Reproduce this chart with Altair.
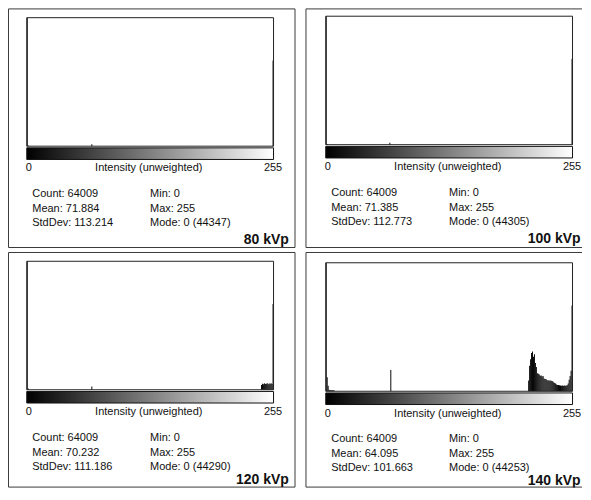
import altair as alt
import pandas as pd

FONT = "Liberation Sans"

# ---- data ----
panel_labels = ["80 kVp", "100 kVp", "120 kVp", "140 kVp"]
stat_count = [64009, 64009, 64009, 64009]
stat_mean = ["71.884", "71.385", "70.232", "64.095"]
stat_std = ["113.214", "112.773", "111.186", "101.663"]
stat_min = [0, 0, 0, 0]
stat_max = [255, 255, 255, 255]
stat_mode = [0, 0, 0, 0]
stat_mode_count = [44347, 44305, 44290, 44253]

axis_min_label = "0"
axis_max_label = "255"
axis_title = "Intensity (unweighted)"

bins_80 = [0, 1, 67, 255]
counts_80 = [44347, 150, 400, 18000]

bins_100 = [0, 1, 66, 255]
counts_100 = [44305, 150, 400, 17900]

bins_120 = [0, 1, 67, 243, 244, 245, 246, 247, 248, 249, 250, 251, 252, 253, 254, 255]
counts_120 = [44290, 150, 390, 560, 700, 640, 760, 690, 720, 780, 650, 740, 700, 760, 680, 10100]

bins_140 = [0, 1, 2, 3, 4, 5, 6, 7, 8, 67,
            210, 211, 212, 213, 214, 215, 216, 217, 218, 219,
            220, 221, 222, 223, 224, 225, 226, 227, 228, 229,
            230, 231, 232, 233, 234, 235, 236, 237, 238, 239,
            240, 241, 242, 243, 244, 245, 246, 247, 248, 249,
            250, 251, 252, 253, 254, 255]
counts_140 = [44253, 376, 150, 40, 34, 30, 36, 28, 30, 568,
              287, 684, 855, 1026, 1060, 923, 992, 752, 650, 479,
              470, 445, 412, 420, 395, 405, 342, 330, 325, 300,
              285, 295, 280, 290, 275, 270, 240, 222, 205, 178,
              170, 165, 158, 154, 150, 156, 148, 152, 150, 155,
              160, 205, 308, 410, 547, 2290]

hist_bins = [bins_80, bins_100, bins_120, bins_140]
hist_counts = [counts_80, counts_100, counts_120, counts_140]

# ---- layout: positions relative to the panel box corner ----
PX0, PX1 = 20.3, 267.5
PY0, PY1 = 10.8, 139.5
GY0, GY1 = 141.2, 152.8
AXB = 164.8
X_ZERO, X_TITLE, X_MAX = 19.2, 142.5, 276.2
S1, S2 = 25.8, 143.8
SB = [190.8, 205.8, 219.8]
KX, KB = 282.8, 237.8
TXT = "#111111"
BOX = "#3a3a3a"

# panel views: (width, height, content dx, content dy, label dx, label dy, has right edge)
views = [
    (288, 240, -1.5, -1.5, 0.0, 0, True),
    (277, 240, 0.0, -3.0, -7.3, 0, False),
    (288, 236, -1.5, -1.5, 0.0, -4, True),
    (277, 236, 0.0, 0.0, -7.3, -4, False),
]


def text_layer(s, x, y, align="left", size=11, bold=False):
    return alt.Chart(pd.DataFrame({"t": [s]})).mark_text(
        align=align, baseline="alphabetic", font=FONT, fontSize=size,
        fontWeight="bold" if bold else "normal", color=TXT, clip=True
    ).encode(x=alt.value(x), y=alt.value(y), text="t:N")


def edge(x, x2, y, y2):
    return alt.Chart(pd.DataFrame({"a": [0]})).mark_rule(
        color=BOX, strokeWidth=1
    ).encode(x=alt.value(x), x2=alt.value(x2), y=alt.value(y), y2=alt.value(y2))


def panel(i):
    w, h, dx, dy, kdx, kdy, right = views[i]
    df = pd.DataFrame({"b": hist_bins[i], "c": hist_counts[i]})
    df["b2"] = df["b"] + 1
    second = sorted(hist_counts[i])[-2]
    ymax = 1.5 * second
    xs = alt.Scale(domain=[0, 256], range=[PX0 + dx, PX1 + dx])
    ys = alt.Scale(domain=[0, ymax], range=[PY1 + dy, PY0 + dy], clamp=True)

    bars = alt.Chart(df).mark_rect(color="black").encode(
        x=alt.X("b:Q", scale=xs, axis=None),
        x2="b2:Q",
        y=alt.Y("c:Q", scale=ys, axis=None),
        y2=alt.datum(0),
    )
    one = pd.DataFrame({"a": [0]})
    frame = alt.Chart(one).mark_rect(
        fillOpacity=0, stroke="#222222", strokeWidth=1
    ).encode(x=alt.value(PX0 + dx), x2=alt.value(PX1 + dx),
             y=alt.value(PY0 + dy), y2=alt.value(PY1 + dy))
    grad = alt.Chart(one).mark_rect(
        fill={"gradient": "linear", "x1": 0, "x2": 1, "y1": 0, "y2": 0,
              "stops": [{"offset": 0, "color": "#000000"},
                        {"offset": 1, "color": "#ffffff"}]},
        stroke="#111111", strokeWidth=1,
    ).encode(x=alt.value(PX0 + dx), x2=alt.value(PX1 + dx),
             y=alt.value(GY0 + dy), y2=alt.value(GY1 + dy))

    edges = [
        edge(0.5, w - 0.5 if right else w, 0.5, 0.5),
        edge(0.5, 0.5, 0.5, h - 0.5),
        edge(0.5, w - 0.5 if right else w, h - 0.5, h - 0.5),
    ]
    if right:
        edges.append(edge(w - 0.5, w - 0.5, 0.5, h - 0.5))

    texts = [
        text_layer(axis_min_label, X_ZERO + dx, AXB + dy, "left"),
        text_layer(axis_title, X_TITLE + dx, AXB + dy, "center"),
        text_layer(axis_max_label, X_MAX + dx, AXB + dy, "right"),
        text_layer(f"Count: {stat_count[i]}", S1 + dx, SB[0] + dy),
        text_layer(f"Mean: {stat_mean[i]}", S1 + dx, SB[1] + dy),
        text_layer(f"StdDev: {stat_std[i]}", S1 + dx, SB[2] + dy),
        text_layer(f"Min: {stat_min[i]}", S2 + dx, SB[0] + dy),
        text_layer(f"Max: {stat_max[i]}", S2 + dx, SB[1] + dy),
        text_layer(f"Mode: {stat_mode[i]} ({stat_mode_count[i]})", S2 + dx, SB[2] + dy),
        text_layer(panel_labels[i], KX + dx + kdx, KB + dy + kdy, "right", size=14, bold=True),
    ]
    return alt.layer(bars, frame, grad, *edges, *texts).properties(width=w, height=h)


chart = alt.vconcat(
    alt.hconcat(panel(0), panel(1), spacing=10),
    alt.hconcat(panel(2), panel(3), spacing=10),
    spacing=4,
).properties(padding=0).configure_view(strokeWidth=0)

chart.save("out.html", embed_options={"renderer": "svg", "actions": False})
